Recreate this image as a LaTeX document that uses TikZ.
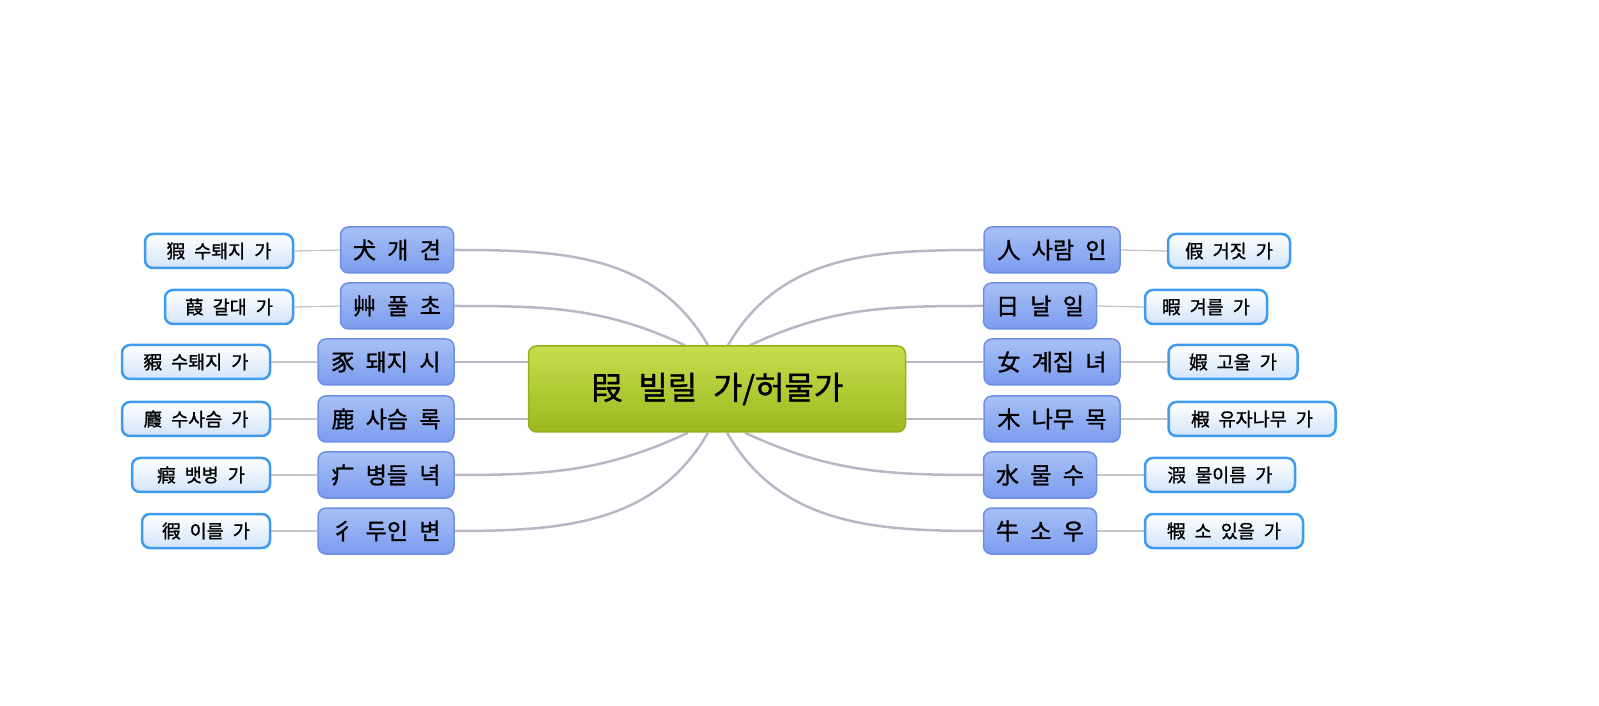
\documentclass[tikz,border=0pt]{standalone}
\usepackage{fontspec}
\setmainfont{Noto Sans CJK KR}[WordSpace=2.2,FakeBold=1.2]
\usepackage{tikz}
\usetikzlibrary{backgrounds}
\definecolor{roottop}{HTML}{C5DE4E}
\definecolor{rootbot}{HTML}{9CBA1E}
\definecolor{rootline}{HTML}{98AE1A}
\definecolor{radtop}{HTML}{A8C0F6}
\definecolor{radbot}{HTML}{7B9CEE}
\definecolor{radline}{HTML}{6D90E6}
\definecolor{charline}{HTML}{3D9BF0}
\definecolor{charbot}{HTML}{D3E4FA}
\definecolor{branchline}{HTML}{BBB5C5}
\definecolor{twigline}{HTML}{C6C6C6}

\begin{document}
\begin{tikzpicture}[x=1pt,y=1pt,
  rootbox/.style={draw=rootline,line width=1.5pt,rounded corners=8pt,top color=roottop,bottom color=rootbot,minimum width=377pt,minimum height=86pt,font=\fontsize{32}{32}\selectfont},
  radbox/.style={draw=radline,line width=1.5pt,rounded corners=8pt,top color=radtop,bottom color=radbot,minimum height=46pt,font=\fontsize{23}{23}\selectfont},
  charbox/.style={draw=charline,line width=2.5pt,rounded corners=8pt,top color=white,bottom color=charbot,minimum height=34pt,font=\fontsize{18.5}{18.5}\selectfont},
  branch/.style={draw=branchline,line width=2.5pt},
  twig/.style={draw=twigline,line width=1.3pt}]
\useasboundingbox (0,0) rectangle (1599,705);
% centre
\node[rootbox] (root) at (717,316) {叚 빌릴 가/허물가};
% radicals, left
\node[radbox,minimum width=113pt] (dog) at (397,455) {犬 개 견};
\node[radbox,minimum width=113pt] (grass) at (397,399) {艸 풀 초};
\node[radbox,minimum width=136pt] (pig) at (386,343) {豕 돼지 시};
\node[radbox,minimum width=136pt] (deer) at (386,286) {鹿 사슴 록};
\node[radbox,minimum width=136pt] (sick) at (386,230) {疒 병들 녁};
\node[radbox,minimum width=136pt] (walk) at (386,174) {彳 두인 변};
% radicals, right
\node[radbox,minimum width=136pt] (man) at (1052,455) {人 사람 인};
\node[radbox,minimum width=113pt] (sun) at (1040,399) {日 날 일};
\node[radbox,minimum width=136pt] (woman) at (1052,343) {女 계집 녀};
\node[radbox,minimum width=136pt] (tree) at (1052,286) {木 나무 목};
\node[radbox,minimum width=113pt] (water) at (1040,230) {水 물 수};
\node[radbox,minimum width=113pt] (ox) at (1040,174) {牛 소 우};
% characters
\node[charbox,minimum width=148pt] (boar) at (219,454) {猳 수퇘지 가};
\node[charbox,minimum width=128pt] (reed) at (229,398) {葭 갈대 가};
\node[charbox,minimum width=148pt] (hog) at (196,343) {豭 수퇘지 가};
\node[charbox,minimum width=148pt] (stag) at (196,286) {麚 수사슴 가};
\node[charbox,minimum width=138pt] (colic) at (201,230) {瘕 뱃병 가};
\node[charbox,minimum width=128pt] (reach) at (206,174) {徦 이를 가};
\node[charbox,minimum width=122pt] (false) at (1229,454) {假 거짓 가};
\node[charbox,minimum width=122pt] (leisure) at (1206,398) {暇 겨를 가};
\node[charbox,minimum width=129pt] (pretty) at (1233,343) {婽 고울 가};
\node[charbox,minimum width=167pt] (citron) at (1252,286) {椵 유자나무 가};
\node[charbox,minimum width=150pt] (river) at (1220,230) {溊 물이름 가};
\node[charbox,minimum width=158pt] (cattle) at (1224,174) {犌 소 있을 가};
\begin{scope}[on background layer]
\coordinate (nw1) at ([xshift=-32pt]root.north);
\coordinate (nw2) at ([xshift=-9pt]root.north);
\coordinate (ne2) at ([xshift=11pt]root.north);
\coordinate (ne1) at ([xshift=33pt]root.north);
\coordinate (sw1) at ([xshift=-29pt]root.south);
\coordinate (sw2) at ([xshift=-9pt]root.south);
\coordinate (se2) at ([xshift=10pt]root.south);
\coordinate (se1) at ([xshift=28pt]root.south);
\draw[branch] (dog.east) to[out=0,in=120] (nw2);
\draw[branch] (grass.east) to[out=0,in=155] (nw1);
\draw[branch] (pig.east) -- (pig.east -| root.west);
\draw[branch] (deer.east) -- (deer.east -| root.west);
\draw[branch] (sick.east) to[out=0,in=205] (sw1);
\draw[branch] (walk.east) to[out=0,in=240] (sw2);
\draw[branch] (man.west) to[out=180,in=60] (ne2);
\draw[branch] (sun.west) to[out=180,in=25] (ne1);
\draw[branch] (woman.west) -- (woman.west -| root.east);
\draw[branch] (tree.west) -- (tree.west -| root.east);
\draw[branch] (water.west) to[out=180,in=-25] (se1);
\draw[branch] (ox.west) to[out=180,in=-60] (se2);
\draw[twig] (dog.west) -- (boar.east);
\draw[twig] (grass.west) -- (reed.east);
\draw[twig] (pig.west) -- (hog.east);
\draw[twig] (deer.west) -- (stag.east);
\draw[twig] (sick.west) -- (colic.east);
\draw[twig] (walk.west) -- (reach.east);
\draw[twig] (man.east) -- (false.west);
\draw[twig] (sun.east) -- (leisure.west);
\draw[twig] (woman.east) -- (pretty.west);
\draw[twig] (tree.east) -- (citron.west);
\draw[twig] (water.east) -- (river.west);
\draw[twig] (ox.east) -- (cattle.west);
\end{scope}
\end{tikzpicture}
\end{document}
